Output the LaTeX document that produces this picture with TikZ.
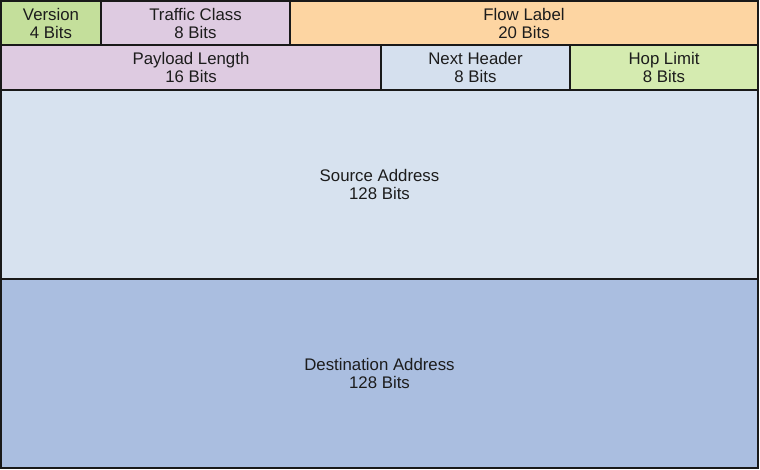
\documentclass[tikz,border=0pt]{standalone}
\usepackage{fontspec}
\setmainfont{Liberation Sans}
\usepackage{tikz}
\usetikzlibrary{backgrounds}
\definecolor{versiongreen}{HTML}{C4DF9B}
\definecolor{trafficpurple}{HTML}{DECBE1}
\definecolor{floworange}{HTML}{FDD5A2}
\definecolor{nextblue}{HTML}{D5E0EE}
\definecolor{hopgreen}{HTML}{D5EBB0}
\definecolor{sourceblue}{HTML}{D7E2EF}
\definecolor{destblue}{HTML}{AABEE0}
\definecolor{textgray}{HTML}{1C1C1C}
\newcommand{\rowh}{44pt}
\newcommand{\addrh}{189pt}
\tikzset{
  field/.style={draw=black!90, line width=1.6pt, rectangle, inner sep=0pt,
    align=center, text=textgray, font=\fontsize{16.8}{18}\selectfont}
}

\begin{document}
\begin{tikzpicture}[x=1pt, y=1pt]
\useasboundingbox (0,0) rectangle (760,-470);
%header row 1
\node[field, fill=versiongreen, minimum width=100pt, minimum height=\rowh] (version) at (51,-23) {Version\\4 Bits};
\node[field, fill=trafficpurple, minimum width=189pt, minimum height=\rowh] (traffic) at (195.5,-23) {Traffic Class\\8 Bits};
\node[field, fill=floworange, minimum width=468pt, minimum height=\rowh] (flow) at (524,-23) {Flow Label\\20 Bits};
%header row 2
\node[field, fill=trafficpurple, minimum width=380pt, minimum height=45pt] (payload) at (191,-67.5) {Payload Length\\16 Bits};
\node[field, fill=nextblue, minimum width=189pt, minimum height=45pt] (next) at (475.5,-67.5) {Next Header\\8 Bits};
\node[field, fill=hopgreen, minimum width=188pt, minimum height=45pt] (hop) at (664,-67.5) {Hop Limit\\8 Bits};
%addresses
\node[field, fill=sourceblue, minimum width=757pt, minimum height=\addrh] (source) at (379.5,-184.5) {Source Address\\128 Bits};
\node[field, fill=destblue, minimum width=757pt, minimum height=\addrh] (dest) at (379.5,-373.5) {Destination Address\\128 Bits};
\end{tikzpicture}
\end{document}
